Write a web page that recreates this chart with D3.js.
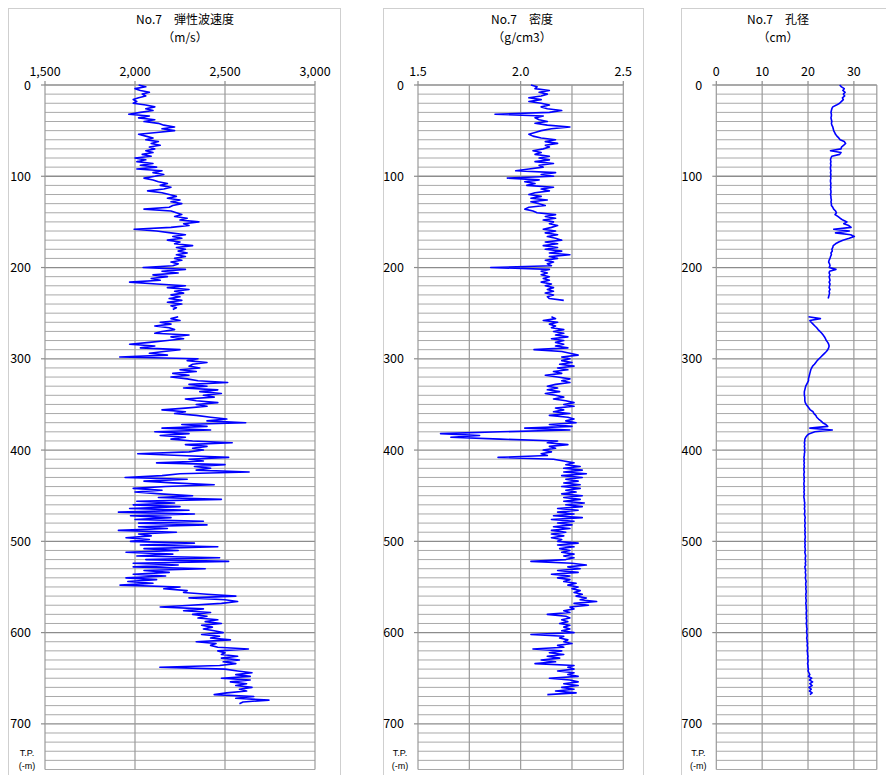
<!DOCTYPE html>
<html><head><meta charset="utf-8">
<script src="https://cdn.jsdelivr.net/npm/d3@7"></script>
<style>
body{margin:0;background:#fff}
svg{display:block}
text{font-family:"Noto Sans CJK JP","Noto Sans",sans-serif;fill:#000}
text.tp{font-family:"Liberation Sans","Arial",sans-serif}
</style>
</head><body><svg id="c" width="886" height="775"></svg>
<script>
// ---- data (depth sampled every DEPTH_STEP metres from 0 m) ----
const DEPTH_STEP = 2;
const depthTicks = [0,100,200,300,400,500,600,700];

const velTicks = [1500,2000,2500,3000];
const denTicks = [1.5,2.0,2.5];
const calTicks = [0,10,20,30];

const velocity = [
2020,2060,2000,2030,2080,2040,2060,2020,1990,2010,
1990,2060,2110,2060,2100,2030,1965,2080,2020,2110,
2050,2130,2160,2220,2150,2220,2120,2020,2060,2100,
2060,2130,2090,2140,2080,2110,2060,2100,2040,2090,
2000,2060,2010,2100,2030,2120,2010,2150,2100,2160,
2110,2050,2100,2130,2180,2140,2200,2160,2070,2150,
2190,2230,2180,2250,2200,2260,2210,2190,2050,2200,
2230,2260,2220,2290,2250,2355,2270,2300,2200,1995,
2120,2200,2280,2210,2260,2180,2250,2220,2320,2230,
2280,2240,2290,2230,2280,2220,2260,2200,2240,2210,
2045,2280,2150,2240,2100,2180,2090,2140,1970,2120,
2280,2180,2300,2220,2270,2200,2250,2190,2260,2180,
2260,2200,2230,2210,null,null,null,2240,2200,2250,
2140,2200,2110,2190,2220,2150,2110,2300,2200,2270,
2180,2080,1970,2110,2030,2250,2160,2080,2180,1915,
2350,2290,2400,2320,2300,2360,2250,2340,2210,2300,
2200,2290,2350,2515,2300,2400,2270,2460,2360,2480,
2380,2440,2280,2340,2460,2340,2400,2280,2150,2280,
2220,2340,2420,2510,2400,2615,2260,2400,2150,2420,
2110,2300,2140,2280,2200,2320,2540,2280,2400,2320,
2380,2300,2015,2250,2520,2300,2380,2120,2500,2330,
2420,2340,2634,2250,2150,1945,2290,2050,2210,2440,
2170,1990,2150,2000,2140,2320,2130,2480,2010,2220,
1990,2250,1970,2300,1908,2330,1975,2200,2000,2380,
2020,2400,2020,2180,1908,2230,2020,2090,1950,2080,
1975,2330,2030,2460,2050,2240,1950,2210,2010,2470,
2060,2520,1990,2240,1990,2390,2050,2190,1990,2170,
1950,2120,1960,2100,1917,2250,2160,2290,2270,2400,
2560,2300,2500,2570,2480,2310,2140,2380,2270,2420,
2320,2400,2350,2460,2390,2480,2370,2430,2380,2440,
2490,2370,2470,2420,2530,2340,2450,2420,2460,2630,
2460,2500,2480,2570,2480,2580,2490,2560,2470,2138,
2500,2570,2650,2560,2640,2480,2640,2530,2620,2560,
2650,2580,2620,2510,2440,2660,2560,2744,2600,2580
];

const density = [
2.05,2.08,2.07,2.14,2.09,2.13,2.10,2.04,2.10,2.04,
2.10,2.14,2.10,2.13,2.20,2.14,1.875,2.11,2.07,2.09,
2.13,2.07,2.13,2.24,2.15,2.10,2.07,2.04,2.06,2.10,
2.17,2.12,2.18,2.12,2.14,2.11,2.06,2.10,2.07,2.14,
2.09,2.14,2.07,2.16,2.09,2.11,2.04,1.976,2.17,2.10,
2.16,1.935,2.09,2.02,2.07,2.03,2.16,2.10,2.14,2.07,
2.04,2.10,2.05,2.13,2.05,2.09,2.12,2.04,2.02,2.06,
2.08,2.17,2.12,2.17,2.11,2.16,2.14,2.18,2.15,2.11,
2.17,2.12,2.18,2.13,2.17,2.20,2.12,2.18,2.11,2.18,
2.12,2.20,2.14,2.24,2.14,2.18,2.12,2.16,2.13,2.15,
1.854,2.14,2.10,2.13,2.10,2.14,2.11,2.14,2.10,2.15,
2.12,2.16,2.13,2.16,2.12,2.16,2.13,2.14,2.21,null,
null,null,null,null,null,null,null,2.15,2.17,2.11,
2.18,2.14,2.17,2.15,2.21,2.16,2.21,2.17,2.23,2.15,
2.21,2.17,2.21,2.17,2.23,2.065,2.20,2.24,2.28,2.20,
2.24,2.20,2.25,2.19,2.26,2.18,2.23,2.16,2.20,2.12,
2.18,2.24,2.20,2.24,2.17,2.13,2.18,2.13,2.19,2.12,
2.17,2.21,2.16,2.22,2.26,2.21,2.26,2.17,2.21,2.16,
2.24,2.14,2.23,2.26,2.22,2.27,2.14,2.25,2.02,2.24,
1.90,1.61,1.80,1.66,1.90,2.18,2.13,2.23,2.14,2.17,
2.11,2.15,2.10,2.13,1.89,2.16,2.21,2.26,2.22,2.29,
2.21,2.30,2.21,2.32,2.20,2.30,2.22,2.28,2.21,2.29,
2.20,2.29,2.22,2.27,2.20,2.30,2.21,2.29,2.21,2.31,
2.22,2.30,2.18,2.28,2.18,2.26,2.16,2.30,2.15,2.26,
2.18,2.25,2.16,2.24,2.15,2.22,2.15,2.21,2.15,2.20,
2.18,2.28,2.18,2.26,2.19,2.24,2.20,2.26,2.21,2.26,
2.22,2.05,2.25,2.32,2.23,2.29,2.18,2.28,2.15,2.24,
2.18,2.24,2.21,2.27,2.23,2.28,2.25,2.29,2.26,2.30,
2.27,2.32,2.29,2.37,2.26,2.33,2.24,2.26,2.21,2.24,
2.13,2.22,2.24,2.20,2.23,2.19,2.24,2.21,2.24,2.20,
2.26,2.05,2.21,2.19,2.23,2.21,2.25,2.18,2.21,2.06,
2.20,2.14,2.21,2.13,2.19,2.10,2.17,2.07,2.26,2.23,
2.26,2.18,2.26,2.23,2.28,2.14,2.24,2.28,2.21,2.28,
2.20,2.26,2.17,2.27,2.13
];

const caliper = [
26.9,27.3,27.9,27.6,28.1,27.7,28.0,27.5,27.7,27.3,
26.9,26.2,25.4,25.2,25.1,25.0,25.1,25.1,25.0,25.1,
25.2,25.1,25.2,25.4,25.5,25.6,25.8,26.0,26.3,26.7,
27.0,27.9,28.2,27.8,27.3,27.2,24.9,27.2,26.9,25.2,
25.0,24.9,25.0,24.9,25.0,24.9,24.9,25.0,24.9,25.0,
24.9,25.0,24.9,24.9,25.0,24.9,25.0,24.9,25.0,25.0,
24.9,25.0,25.0,25.1,25.0,25.1,25.1,25.4,25.6,26.0,
26.2,25.9,26.5,27.0,27.6,28.5,27.8,28.9,29.4,25.6,
29.0,26.0,29.3,30.1,29.0,27.6,26.7,26.0,25.5,25.4,
25.2,25.3,25.0,25.1,24.9,24.8,24.6,24.5,24.7,24.8,
24.6,26.1,24.7,24.6,24.8,24.6,24.7,24.8,24.6,24.8,
24.7,24.6,24.8,24.6,24.7,24.6,24.5,24.4,null,null,
null,null,null,null,null,null,null,20.1,22.7,20.4,
20.7,21.1,21.5,21.9,22.2,22.6,23.0,23.3,23.6,23.8,
24.0,24.3,24.5,24.6,24.5,24.3,24.0,23.6,23.2,22.8,
22.4,22.0,21.7,21.4,21.0,20.8,20.6,20.5,20.4,20.3,
20.2,20.1,20.1,19.9,19.7,19.5,19.4,19.3,19.2,19.2,
19.2,19.3,19.3,19.3,19.4,19.6,19.9,20.2,20.5,21.1,
21.3,21.7,21.9,22.3,22.8,23.2,23.9,24.3,20.4,25.3,
21.5,20.3,19.8,19.5,19.3,19.3,19.2,19.3,19.2,19.3,
19.2,19.3,19.2,19.2,19.1,19.2,19.1,19.2,19.1,19.2,
19.1,19.1,19.2,19.1,19.1,19.2,19.1,19.2,19.1,19.1,
19.2,19.1,19.2,19.1,19.2,19.1,19.1,19.2,19.2,19.3,
19.2,19.3,19.2,19.3,19.3,19.2,19.3,19.4,19.3,19.3,
19.4,19.3,19.3,19.4,19.3,19.4,19.3,19.4,19.4,19.3,
19.4,19.3,19.4,19.3,19.4,19.4,19.3,19.4,19.5,19.4,
19.4,19.5,19.4,19.5,19.3,19.4,19.5,19.4,19.5,19.5,
19.4,19.5,19.6,19.5,19.5,19.6,19.5,19.6,19.6,19.5,
19.6,19.5,19.6,19.6,19.5,19.6,19.6,19.6,19.7,19.6,
19.6,19.7,19.6,19.7,19.7,19.6,19.7,19.7,19.8,19.7,
19.7,19.8,19.8,19.7,19.8,19.8,19.9,19.8,19.9,19.9,
19.8,19.9,19.9,20.0,19.9,20.0,20.0,19.9,20.0,20.0,
20.1,20.0,20.2,20.4,20.1,20.8,20.3,21.0,20.4,20.9,
20.2,20.7,20.3,20.9,20.4
];

// ---- layout ----
const svg = d3.select("#c");
const y = d3.scaleLinear().domain([0, 750]).range([85, 769.5]);
const gridDepths = d3.range(0, 751, 10);

const panels = [
  { title:"No.7　弾性波速度", unit:"（m/s）", values:velocity, domain:[1500,3000], range:[45,315],
    ticks:velTicks, grid:[1500,2000,2500,3000], fmt:d3.format(","), frame:[8,340], titleX:185 },
  { title:"No.7　密度", unit:"（g/cm3）", values:density, domain:[1.5,2.5], range:[418,623.3],
    ticks:denTicks, grid:[1.5,1.75,2.0,2.25,2.5], fmt:d3.format(".1f"), frame:[383,643], titleX:522 },
  { title:"No.7　孔径", unit:"（cm）", values:caliper, domain:[0,35], range:[716.3,876.8],
    ticks:calTicks, grid:[0,10,20,30,35], fmt:d3.format("d"), frame:[681,900], titleX:778 }
];

panels.forEach(p => {
  const g = svg.append("g");
  const x = d3.scaleLinear().domain(p.domain).range(p.range);
  // chart frame
  g.append("rect").attr("x", p.frame[0]+0.5).attr("y", 8.5)
    .attr("width", p.frame[1]-p.frame[0]).attr("height", 800)
    .attr("fill","none").attr("stroke","#cfcfcf").attr("stroke-width",1);
  // titles
  g.append("text").attr("x", p.titleX).attr("y", 24).attr("text-anchor","middle")
    .attr("font-size", 12).text(p.title);
  g.append("text").attr("x", p.titleX).attr("y", 42).attr("text-anchor","middle")
    .attr("font-size", 12).text(p.unit);
  // horizontal grid
  g.selectAll("line.h").data(gridDepths).join("line")
    .attr("x1", p.range[0]).attr("x2", p.range[1])
    .attr("y1", d => y(d)).attr("y2", d => y(d))
    .attr("stroke", d => d % 100 === 0 ? "#8c8c8c" : "#a9a9a9")
    .attr("stroke-width", d => d % 100 === 0 ? 1.3 : 1);
  // vertical grid
  g.selectAll("line.v").data(p.grid).join("line")
    .attr("x1", d => x(d)).attr("x2", d => x(d))
    .attr("y1", y(0)).attr("y2", y(750))
    .attr("stroke", "#9a9a9a").attr("stroke-width", 1.2);
  // x ticks & labels (top)
  g.selectAll("line.xt").data(p.ticks).join("line")
    .attr("x1", d => x(d)).attr("x2", d => x(d))
    .attr("y1", y(0)-4).attr("y2", y(0))
    .attr("stroke", "#8c8c8c").attr("stroke-width", 1.2);
  g.selectAll("text.xl").data(p.ticks).join("text")
    .attr("x", d => x(d)).attr("y", 76).attr("text-anchor","middle")
    .attr("font-size", 12.5).text(p.fmt);
  // y ticks & labels
  g.selectAll("line.yt").data(depthTicks).join("line")
    .attr("x1", p.range[0]-4).attr("x2", p.range[0])
    .attr("y1", d => y(d)).attr("y2", d => y(d))
    .attr("stroke", "#8c8c8c").attr("stroke-width", 1.2);
  g.selectAll("text.yl").data(depthTicks).join("text")
    .attr("x", p.range[0]-14).attr("y", d => y(d)).attr("dy","0.36em")
    .attr("text-anchor","end").attr("font-size", 12.5).text(d => d);
  g.append("text").attr("class","tp").attr("x", p.range[0]-18).attr("y", 755.5).attr("text-anchor","middle")
    .attr("font-size", 9).text("T.P.");
  g.append("text").attr("class","tp").attr("x", p.range[0]-18).attr("y", 768.5).attr("text-anchor","middle")
    .attr("font-size", 9).text("(-m)");
  // data curve
  const line = d3.line()
    .defined(v => v != null)
    .x(v => x(v))
    .y((v, i) => y(i * DEPTH_STEP));
  g.append("path").datum(p.values).attr("d", line)
    .attr("fill","none").attr("stroke","#0000ff").attr("stroke-width",1.6)
    .attr("stroke-linejoin","round");
});
</script>
</body></html>
